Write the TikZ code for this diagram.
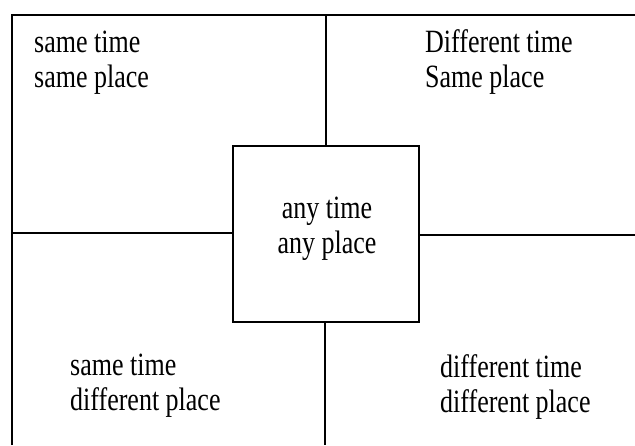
\documentclass[tikz,border=0pt]{standalone}
\usepackage{fontspec}
\setmainfont{Liberation Serif}
\begin{document}
\begin{tikzpicture}[x=1pt,y=-1pt,
  frame/.style={line width=1.4pt,black},
  label/.style={font=\fontsize{26}{28}\selectfont,inner sep=0pt,align=left,
    yscale=1.25,transform shape},
  centre/.style={draw,line width=1.4pt,minimum width=186pt,minimum height=176pt,
    inner sep=0pt}]
  \useasboundingbox (0,0) rectangle (635,445);
  % outer frame corners and line ends
  \coordinate (tl) at (12,15);
  \coordinate (tr) at (635,15);
  \coordinate (bl) at (12,445);
  \coordinate (tm) at (326,15);
  \coordinate (bm) at (325,445);
  \coordinate (lm) at (12,233);
  \coordinate (rm) at (635,235);
  % central box
  \node[centre] (any) at (326,234) {};
  \node[label,align=center,anchor=base] (anytxt) at (327,253) {any time\\any place};
  % quadrant labels (anchored at the baseline of their last line)
  \node[label,anchor=base west] (sTsP) at (34,87) {same time\\same place};
  \node[label,anchor=base west] (dTsP) at (425,87) {Different time\\Same place};
  \node[label,anchor=base west] (sTdP) at (70,410) {same time\\different place};
  \node[label,anchor=base west] (dTdP) at (440,412) {different time\\different place};
  % frame lines
  \draw[frame] (bl) -- (tl) -- (tr);
  \draw[frame] (tm) -- (any.north -| tm);
  \draw[frame] (any.south -| bm) -- (bm);
  \draw[frame] (lm) -- (any.west |- lm);
  \draw[frame] (any.east |- rm) -- (rm);
\end{tikzpicture}
\end{document}
